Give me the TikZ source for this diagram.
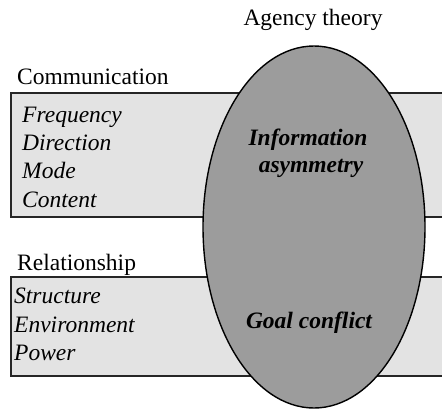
\documentclass[tikz,border=0pt]{standalone}
\usepackage{fontspec}
\setmainfont{Liberation Serif}
\usetikzlibrary{shapes.geometric}
\definecolor{boxfill}{HTML}{E3E3E3}
\definecolor{ovalfill}{HTML}{9C9C9C}
\tikzset{
  boxshape/.style={draw=black!85, line width=2pt, fill=boxfill, anchor=north west, inner sep=0pt, outer sep=0pt},
  ovalshape/.style={draw=black, line width=1.4pt, fill=ovalfill, ellipse, inner sep=0pt},
  txt/.style={font=\fontsize{23.5}{28}\selectfont, inner sep=0pt, anchor=base west},
  itxt/.style={txt, font=\fontsize{23.5}{28}\selectfont\itshape},
  btxt/.style={txt, anchor=base, font=\fontsize{23.5}{28}\selectfont\bfseries\itshape},
}
\begin{document}
\begin{tikzpicture}[x=1pt,y=-1pt]
\clip (0,0) rectangle (442,410);
\fill[white] (0,0) rectangle (442,410);
\node[boxshape, minimum width=445pt, minimum height=124pt] (comm) at (11,93) {};
\node[boxshape, minimum width=445pt, minimum height=99pt] (rel) at (11,277) {};
\node[ovalshape, minimum width=222pt, minimum height=362pt] (oval) at (314,227) {};
\node[txt, anchor=base] (agency) at (313,25) {Agency theory};
\node[txt] (commlbl) at (17,84) {Communication};
\node[itxt] (freq) at (22,122) {Frequency};
\node[itxt] (dir) at (22,150) {Direction};
\node[itxt] (mode) at (22,178) {Mode};
\node[itxt] (cont) at (22,207) {Content};
\node[txt] (rellbl) at (17,270) {Relationship};
\node[itxt] (struct) at (14,303) {Structure};
\node[itxt] (env) at (14,332) {Environment};
\node[itxt] (pow) at (14,360) {Power};
\node[btxt] (info) at (308,145) {Information};
\node[btxt] (asym) at (311,172) {asymmetry};
\node[btxt] (goal) at (309,328) {Goal conflict};
\end{tikzpicture}
\end{document}
